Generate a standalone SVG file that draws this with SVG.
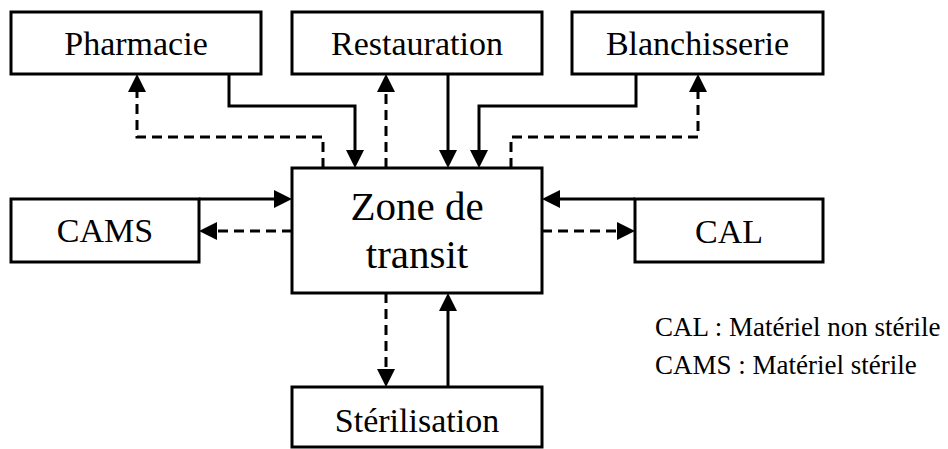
<svg xmlns="http://www.w3.org/2000/svg" width="948" height="449" viewBox="0 0 948 449">
<style>
.box{fill:#fff;stroke:#000;stroke-width:3}
.lbl{font-family:"Liberation Serif","Times New Roman",serif;font-size:34px;fill:#000;text-anchor:middle}
.big{font-size:41px}
.leg{font-family:"Liberation Serif","Times New Roman",serif;font-size:27px;fill:#000}
.c{fill:none;stroke:#000;stroke-width:3;marker-end:url(#ah)}
.d{stroke-dasharray:10 6}
</style>
<defs>
<marker id="ah" viewBox="0 0 18 18" refX="0" refY="9" markerWidth="18" markerHeight="18" markerUnits="userSpaceOnUse" orient="auto">
<path d="M0,0 L18,9 L0,18 z" fill="#000"/>
</marker>
</defs>
<rect width="948" height="449" fill="#fff"/>
<g id="connectors">
<path class="c" d="M229,74 V106 H355 V150"/>
<path class="c d" d="M323,168 V137 H137 V92"/>
<path class="c d" d="M386,168 V92"/>
<path class="c" d="M448,74 V150"/>
<path class="c" d="M636,74 V106 H479 V150"/>
<path class="c d" d="M511,168 V137 H698 V92"/>
<path class="c" d="M199,199 H274"/>
<path class="c d" d="M292,231 H217"/>
<path class="c" d="M635,199 H560"/>
<path class="c d" d="M542,231 H617"/>
<path class="c d" d="M386,293 V369"/>
<path class="c" d="M448,387 V311"/>
</g>
<g id="pharmacie"><rect class="box" x="11" y="12" width="250" height="62"/><text class="lbl" x="136" y="55">Pharmacie</text></g>
<g id="restauration"><rect class="box" x="292" y="12" width="250" height="62"/><text class="lbl" x="417" y="55">Restauration</text></g>
<g id="blanchisserie"><rect class="box" x="572" y="12" width="251" height="62"/><text class="lbl" x="697.5" y="55">Blanchisserie</text></g>
<g id="zone"><rect class="box" x="292" y="168" width="250" height="125"/><text class="lbl big" x="417" y="220">Zone de</text><text class="lbl big" x="417" y="268">transit</text></g>
<g id="cams"><rect class="box" x="11" y="199" width="188" height="63"/><text class="lbl" x="105" y="242">CAMS</text></g>
<g id="cal"><rect class="box" x="635" y="199" width="188" height="63"/><text class="lbl" x="729" y="243">CAL</text></g>
<g id="sterilisation"><rect class="box" x="292" y="387" width="250" height="60"/><text class="lbl" x="417" y="432">Stérilisation</text></g>
<g id="legend"><text class="leg" x="655" y="336">CAL : Matériel non stérile</text><text class="leg" x="655" y="374">CAMS : Matériel stérile</text></g>
</svg>
